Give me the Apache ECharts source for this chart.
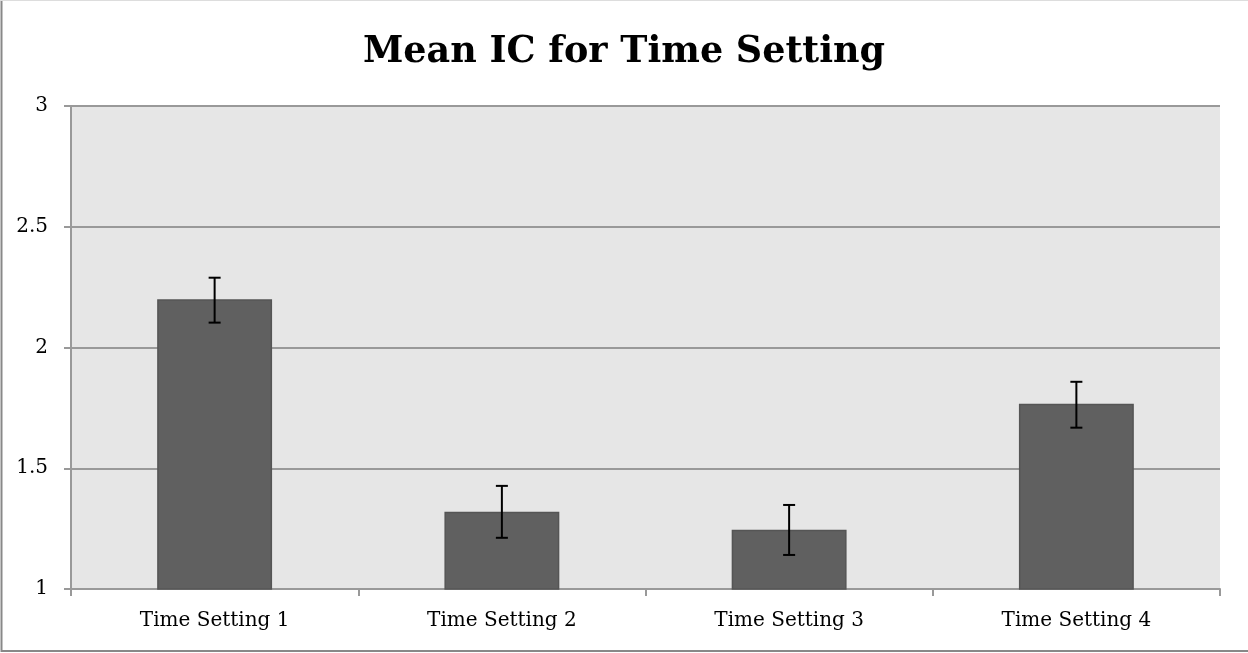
<!DOCTYPE html>
<html><head><meta charset="utf-8">
<script src="https://cdn.jsdelivr.net/npm/echarts@6/dist/echarts.min.js"></script>
<style>html,body{margin:0;padding:0;background:#fff}#c{width:1248px;height:653px}</style>
</head><body><div id="c"></div>
<script>
const categories = ["Time Setting 1", "Time Setting 2", "Time Setting 3", "Time Setting 4"];
const means = [2.2, 1.32, 1.245, 1.767];
const errLow = [2.103, 1.212, 1.141, 1.668];
const errHigh = [2.289, 1.427, 1.348, 1.858];
const yTicks = [1, 1.5, 2, 2.5, 3];

const chart = echarts.init(document.getElementById('c'));
const font = '"DejaVu Serif", "Liberation Serif", serif';
chart.setOption({
  animation: false,
  title: {
    text: 'Mean IC for Time Setting', left: 'center', top: 29,
    textStyle: {fontFamily: font, fontSize: 36.5, fontWeight: 'bold', color: '#000'}
  },
  graphic: [
    {type: 'polyline', shape: {points: [[1.5, 0], [1.5, 651], [1248, 651]]},
     style: {fill: 'none', stroke: '#888', lineWidth: 2}, silent: true, z: 100},
    {type: 'line', shape: {x1: 0, y1: 0.5, x2: 1248, y2: 0.5},
     style: {stroke: '#ddd', lineWidth: 1}, silent: true, z: 100}
  ],
  grid: {left: 71, right: 28, top: 106, bottom: 64, show: true, backgroundColor: '#e6e6e6', borderWidth: 0},
  xAxis: {
    type: 'category', data: categories,
    axisLine: {lineStyle: {color: '#999', width: 2}},
    axisTick: {show: true, length: 7, lineStyle: {color: '#999', width: 2}},
    axisLabel: {fontFamily: font, fontSize: 20, color: '#000', margin: 22}
  },
  yAxis: {
    type: 'value', min: yTicks[0], max: yTicks[yTicks.length - 1], interval: 0.5,
    axisLine: {show: true, lineStyle: {color: '#999', width: 2}},
    axisTick: {show: true, length: 7, lineStyle: {color: '#999', width: 2}},
    splitLine: {lineStyle: {color: '#999', width: 2}},
    axisLabel: {fontFamily: font, fontSize: 20, color: '#000', margin: 23}
  },
  series: [{
    type: 'bar', data: means, barWidth: '40%',
    itemStyle: {color: '#606060', borderColor: '#555', borderWidth: 1.5}
  }, {
    type: 'custom',
    data: categories.map((c, i) => [i, errLow[i], errHigh[i]]),
    renderItem: function (params, api) {
      const i = api.value(0);
      const lo = api.coord([i, api.value(1)]);
      const hi = api.coord([i, api.value(2)]);
      const x = lo[0], cap = 6;
      const st = {stroke: '#000', lineWidth: 2};
      return {type: 'group', children: [
        {type: 'line', shape: {x1: x, y1: lo[1], x2: x, y2: hi[1]}, style: st},
        {type: 'line', shape: {x1: x - cap, y1: lo[1], x2: x + cap, y2: lo[1]}, style: st},
        {type: 'line', shape: {x1: x - cap, y1: hi[1], x2: x + cap, y2: hi[1]}, style: st}
      ]};
    },
    z: 10
  }]
});
</script></body></html>
